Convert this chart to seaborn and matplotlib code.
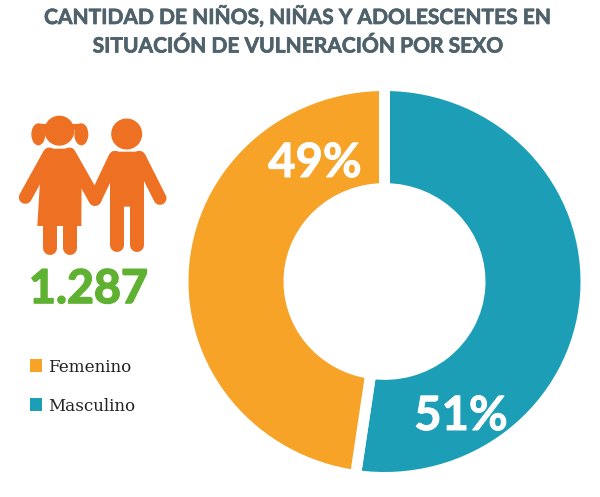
import matplotlib
matplotlib.use("Agg")
import matplotlib.pyplot as plt
import matplotlib.patches as mpatches
import matplotlib.patheffects as pe
import seaborn as sns

labels = ["51%", "49%"]
# shares as the slices are actually drawn in the picture (gap sits past 50%)
slice_shares = [52.3, 47.7]
colors = ["#1c9fb6", "#f6a328"]
legend_labels = ["Femenino", "Masculino"]
legend_colors = ["#f6a328", "#1c9fb6"]
title_lines = ["CANTIDAD DE NIÑOS, NIÑAS Y ADOLESCENTES EN", "SITUACIÓN DE VULNERACIÓN POR SEXO"]
total = "1.287"

sns.set_theme(style="white")
plt.rcParams["font.family"] = ["Lato", "DejaVu Sans"]

W, H = 600, 497
fig = plt.figure(figsize=(6, 4.97), dpi=100)

# donut, slightly wider than tall like the original
ax = fig.add_axes([183 / W, 1 - 477.5 / H, 403 / W, 392 / H])
ax.pie(slice_shares, colors=colors, startangle=90, counterclock=False, radius=1,
       wedgeprops=dict(width=0.526, edgecolor="white", linewidth=7.9))
ax.set_xlim(-1, 1)
ax.set_ylim(-1, 1)
ax.set_aspect("auto")

# overlay in pixel coords for text, icon and legend
bg = fig.add_axes([0, 0, 1, 1])
bg.set_xlim(0, W)
bg.set_ylim(H, 0)
bg.axis("off")

title_c = "#4f626b"
for y, line in zip([24, 52.5], title_lines):
    bg.text(299, y, line, ha="center", va="baseline", fontsize=15.1, fontweight="bold", color=title_c,
            path_effects=[pe.withStroke(linewidth=0.5, foreground=title_c)])

for x, y, lab in zip([461, 315], [430, 177], labels):
    bg.text(x, y, lab, ha="center", va="baseline", color="white", fontsize=34, fontweight="bold",
            path_effects=[pe.withStroke(linewidth=0.7, foreground="white")])

green = "#5fb132"
bg.text(88.5, 303, total, ha="center", va="baseline", fontsize=33.5, fontweight="bold", color=green,
        path_effects=[pe.withStroke(linewidth=1.2, foreground=green)])

# icon, coords taken from a 3x crop starting at y=90
orange = "#ee7023"


def pt(x, y):
    return x / 3, 90 + y / 3


def limb(a, b, px):
    (x0, y0), (x1, y1) = pt(*a), pt(*b)
    bg.plot([x0, x1], [y0, y1], color=orange, lw=px * 0.72, solid_capstyle="round")


def poly(points):
    bg.add_patch(mpatches.Polygon([pt(*p) for p in points], closed=True, color=orange, lw=0))


# girl
bg.add_patch(mpatches.Circle(pt(178, 122), 15, color=orange, lw=0))
bg.add_patch(mpatches.Ellipse(pt(115, 133), 14, 22, color=orange, lw=0))
bg.add_patch(mpatches.Ellipse(pt(244, 133), 14, 22, color=orange, lw=0))
limb((118, 110), (150, 112), 6)
limb((208, 112), (240, 110), 6)
poly([(138, 176), (218, 176), (245, 240), (244, 408), (112, 408), (122, 240)])
limb((148, 192), (76, 322), 13)
limb((208, 192), (285, 328), 13)
limb((149, 410), (149, 474), 14)
limb((211, 410), (211, 474), 14)
# boy
bg.add_patch(mpatches.Circle(pt(380, 132), 15.5, color=orange, lw=0))
poly([(338, 185), (422, 185), (432, 240), (432, 350), (330, 350), (330, 240)])
limb((345, 202), (285, 328), 13)
limb((418, 202), (480, 325), 13)
limb((351, 340), (351, 465), 14)
limb((410, 340), (410, 465), 14)

# legend
for y, lab, c in zip([372, 411], legend_labels, legend_colors):
    bg.add_patch(mpatches.Rectangle((29.5, y - 13), 12.5, 13, color=c, lw=0))
    bg.text(48, y, lab, ha="left", va="baseline", fontsize=12.1, family="DejaVu Serif", color="#222222")

fig.savefig("out.png", dpi=100)
